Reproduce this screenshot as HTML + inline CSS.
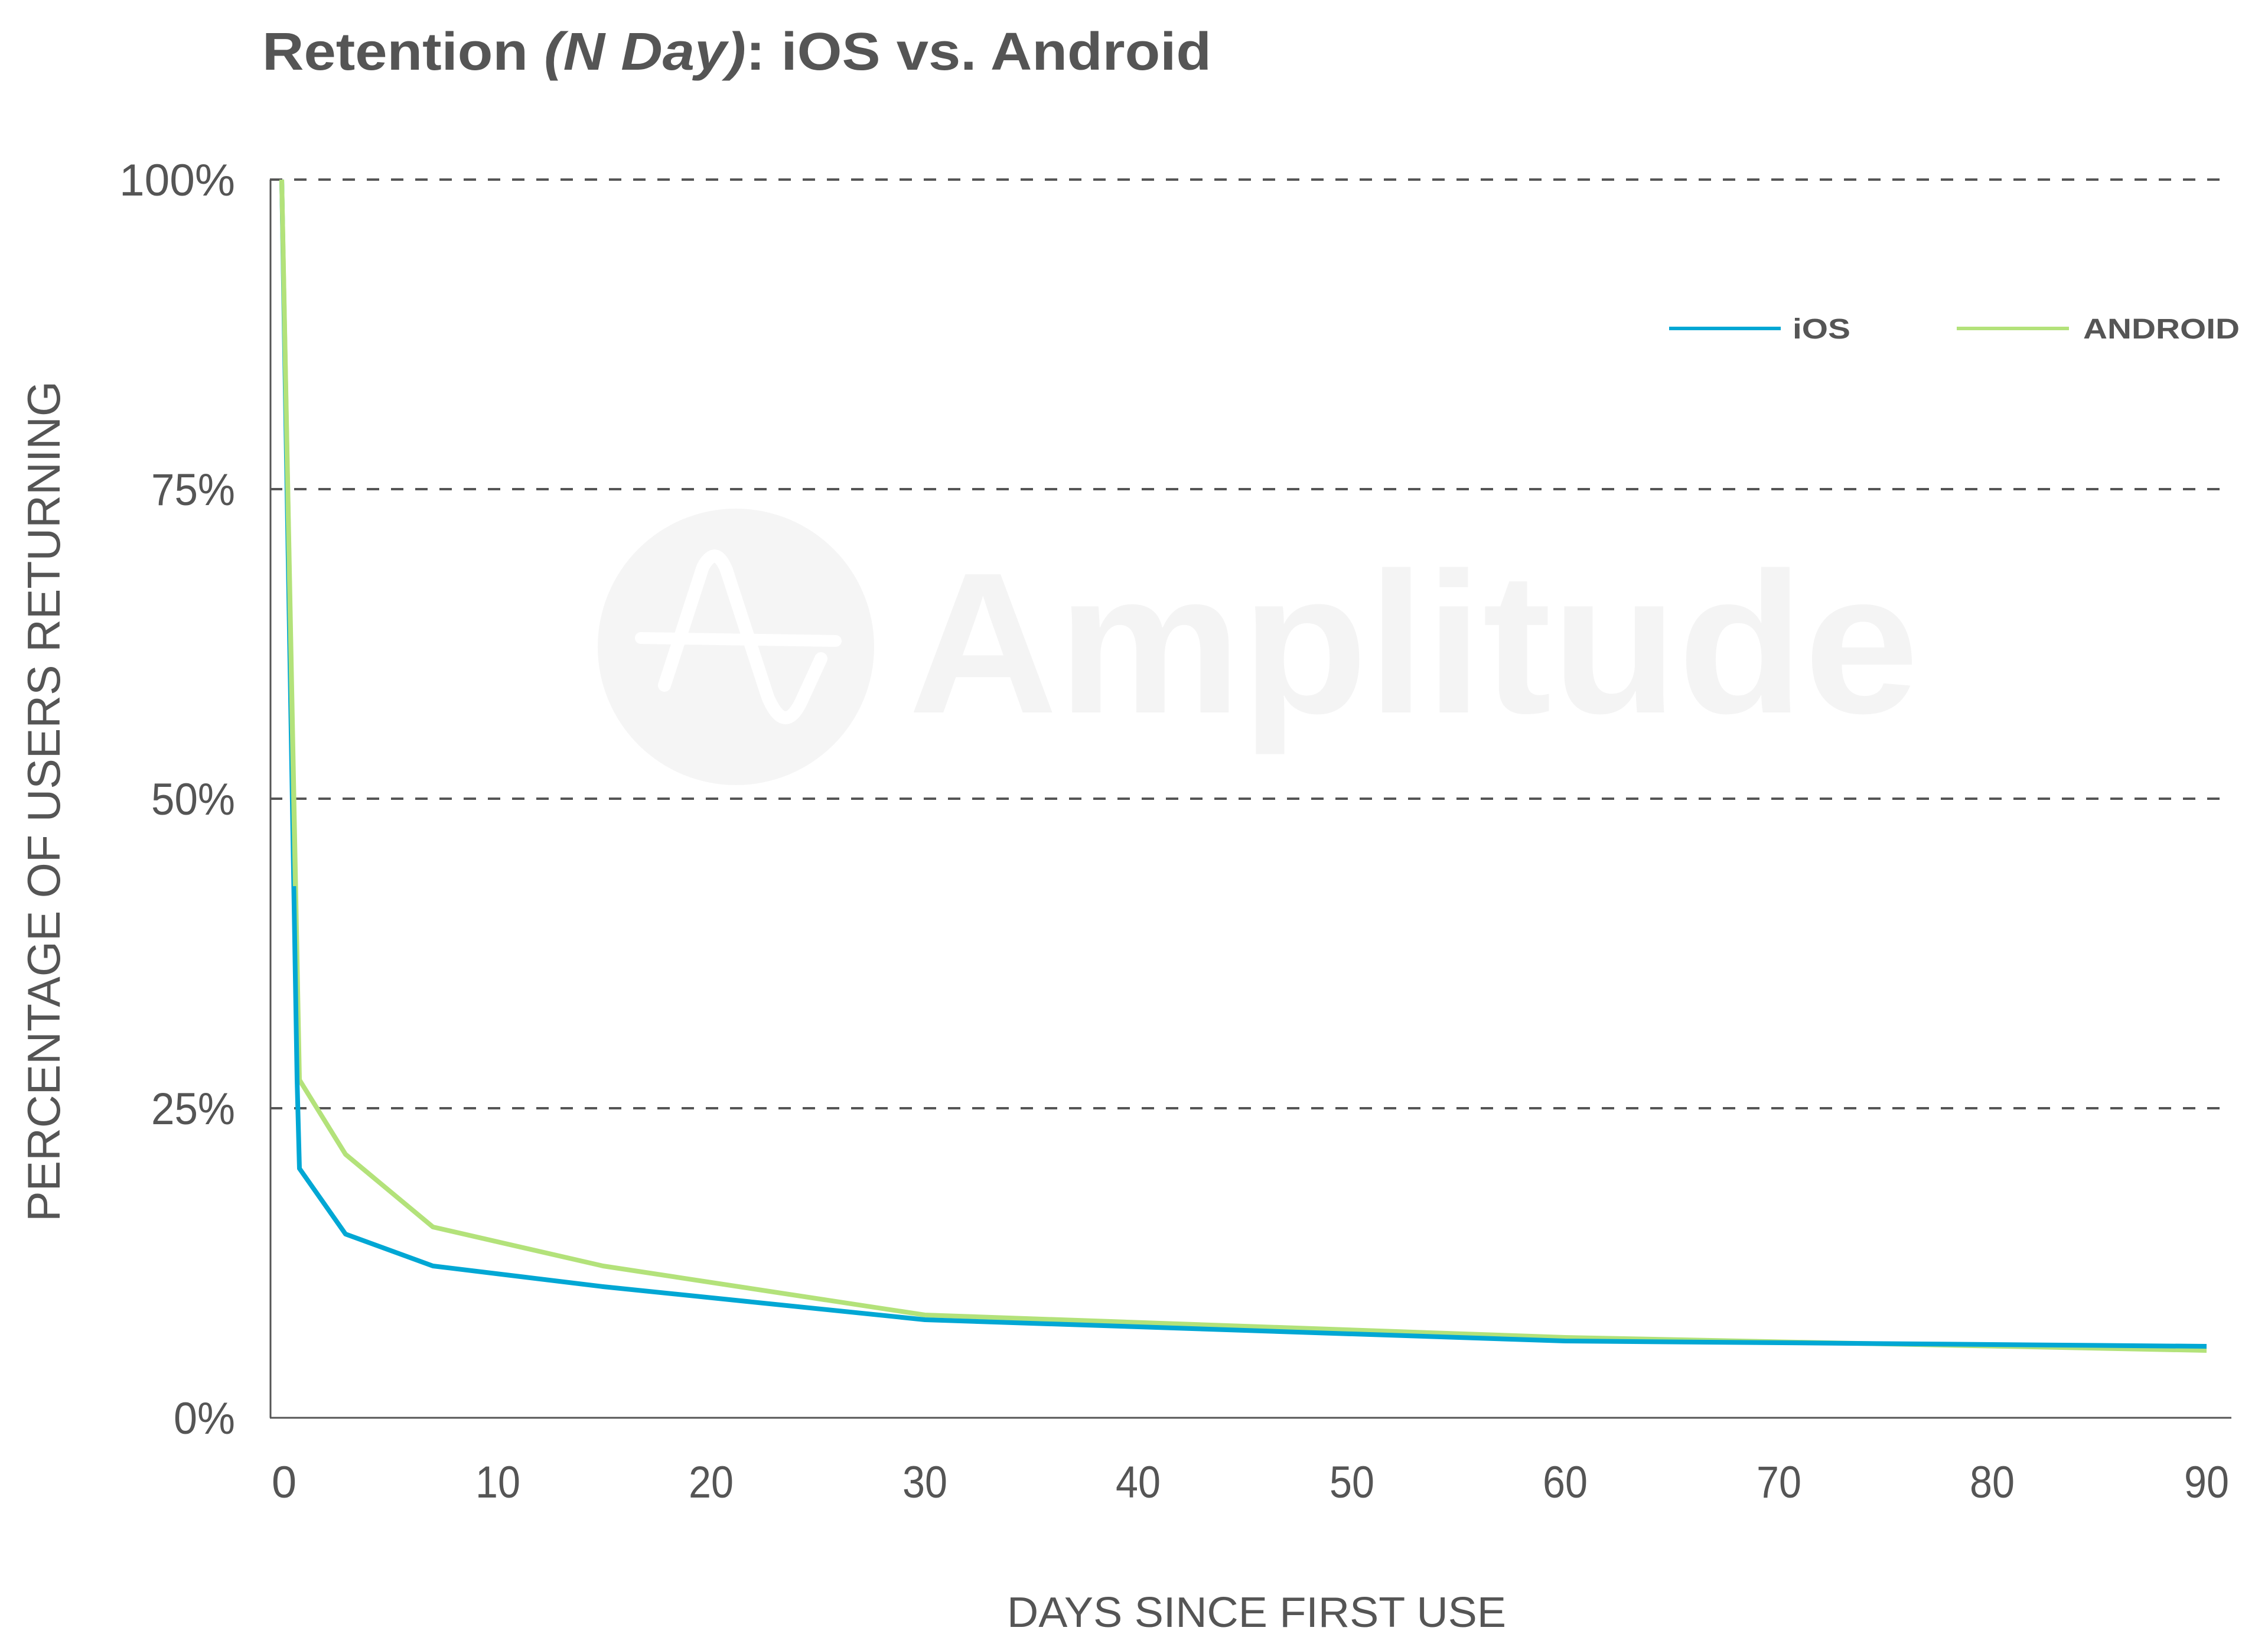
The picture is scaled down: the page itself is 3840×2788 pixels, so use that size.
<!DOCTYPE html>
<html><head><meta charset="utf-8"><style>
html,body{margin:0;padding:0;background:#fff;}
svg{display:block;}
text{font-family:"Liberation Sans",sans-serif;fill:#555;}
</style></head><body>
<svg width="3840" height="2788" viewBox="0 0 3840 2788" xmlns="http://www.w3.org/2000/svg">
<rect width="3840" height="2788" fill="#fff"/>
<!-- watermark -->
<circle cx="1246" cy="1095" r="234" fill="#f5f5f5"/>
<path d="M1125 1160 L1190 960 Q1212 920 1230 965 L1300 1180 Q1330 1250 1360 1180 L1390 1115" fill="none" stroke="#fff" stroke-width="22" stroke-linecap="round"/>
<line x1="1085" y1="1080" x2="1415" y2="1085" stroke="#fff" stroke-width="20" stroke-linecap="round"/>
<text x="1538" y="1206" font-size="340" font-weight="bold" style="fill:#f4f4f4" textLength="1711" lengthAdjust="spacingAndGlyphs">Amplitude</text>
<!-- title -->
<text x="444" y="118" font-size="90" font-weight="bold" textLength="1607" lengthAdjust="spacingAndGlyphs">Retention <tspan font-style="italic">(N Day)</tspan>: iOS vs. Android</text>
<!-- grid -->
<g stroke="#555" stroke-width="4" stroke-dasharray="21 20">
<line x1="457" y1="304" x2="3778" y2="304"/>
<line x1="457" y1="828" x2="3778" y2="828"/>
<line x1="457" y1="1352" x2="3778" y2="1352"/>
<line x1="457" y1="1876" x2="3778" y2="1876"/>
</g>
<g stroke="#555" stroke-width="3">
<line x1="458" y1="304" x2="458" y2="2400"/>
<line x1="457" y1="2400" x2="3778" y2="2400"/>
</g>
<!-- y ticks -->
<g font-size="76" text-anchor="end">
<text x="398" y="331" textLength="196" lengthAdjust="spacingAndGlyphs">100%</text>
<text x="398" y="855" textLength="142" lengthAdjust="spacingAndGlyphs">75%</text>
<text x="398" y="1379" textLength="142" lengthAdjust="spacingAndGlyphs">50%</text>
<text x="398" y="1903" textLength="142" lengthAdjust="spacingAndGlyphs">25%</text>
<text x="398" y="2427" textLength="104" lengthAdjust="spacingAndGlyphs">0%</text>
</g>
<!-- x ticks -->
<g font-size="76" text-anchor="middle">
<text x="481" y="2535">0</text>
<text x="843" y="2535" textLength="76" lengthAdjust="spacingAndGlyphs">10</text>
<text x="1204" y="2535" textLength="76" lengthAdjust="spacingAndGlyphs">20</text>
<text x="1566" y="2535" textLength="76" lengthAdjust="spacingAndGlyphs">30</text>
<text x="1927" y="2535" textLength="76" lengthAdjust="spacingAndGlyphs">40</text>
<text x="2289" y="2535" textLength="76" lengthAdjust="spacingAndGlyphs">50</text>
<text x="2650" y="2535" textLength="76" lengthAdjust="spacingAndGlyphs">60</text>
<text x="3012" y="2535" textLength="76" lengthAdjust="spacingAndGlyphs">70</text>
<text x="3373" y="2535" textLength="76" lengthAdjust="spacingAndGlyphs">80</text>
<text x="3736" y="2535" textLength="76" lengthAdjust="spacingAndGlyphs">90</text>
</g>
<!-- axis titles -->
<text x="1705" y="2754" font-size="72" textLength="845" lengthAdjust="spacingAndGlyphs">DAYS SINCE FIRST USE</text>
<text transform="translate(101,2068) rotate(-90)" x="0" y="0" font-size="78" textLength="1423" lengthAdjust="spacingAndGlyphs">PERCENTAGE OF USERS RETURNING</text>
<!-- series -->
<polyline fill="none" stroke="#b3e27a" stroke-width="8" stroke-linejoin="round" points="477,304 507,1828 585,1954 733,2077 1021,2143 1566,2226 2650,2264 3736,2286"/>
<polyline fill="none" stroke="#00a7d4" stroke-width="8" stroke-linejoin="round" points="477,304 503,1828 507,1978 585,2089 733,2143 1021,2178 1566,2234 2650,2270 3736,2279"/>
<polyline fill="none" stroke="#b3e27a" stroke-width="8" points="477,304 500,1500"/>
<!-- legend -->
<line x1="2826" y1="556" x2="3015" y2="556" stroke="#00a7d4" stroke-width="6"/>
<text x="3035" y="573" font-size="48" font-weight="bold" textLength="98" lengthAdjust="spacingAndGlyphs">iOS</text>
<line x1="3313" y1="556" x2="3503" y2="556" stroke="#b3e27a" stroke-width="6"/>
<text x="3527" y="573" font-size="48" font-weight="bold" textLength="265" lengthAdjust="spacingAndGlyphs">ANDROID</text>
</svg>
</body></html>
